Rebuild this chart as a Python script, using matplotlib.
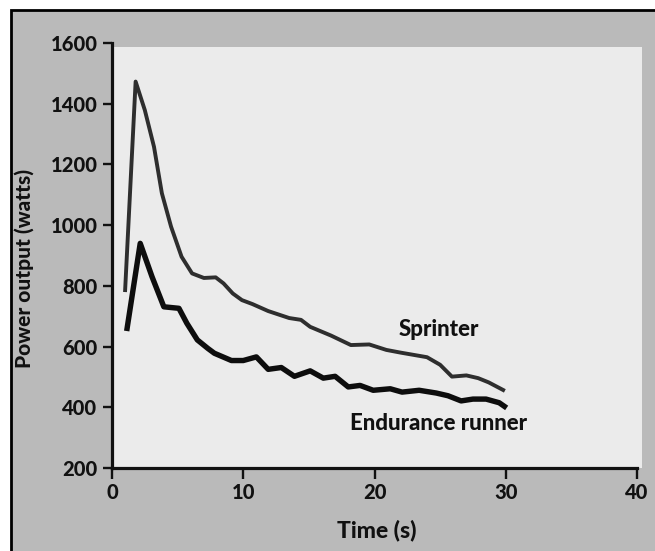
import matplotlib
matplotlib.use("Agg")
import matplotlib.pyplot as plt
from matplotlib.patches import Rectangle

plt.rcParams["font.family"] = ["Lato", "DejaVu Sans"]

# Werte
sprint_t = [1.0, 1.8, 2.5, 3.2, 3.8, 4.5, 5.3, 6.1, 7.0, 7.9, 8.5, 9.2, 9.9, 10.7,
            11.9, 13.5, 14.4, 15.1, 16.7, 18.2, 19.6, 20.9, 22.0, 24.0, 25.0, 25.9,
            27.0, 27.9, 28.7, 29.8]
sprint_w = [786, 1473, 1379, 1258, 1105, 995, 896, 841, 826, 828, 808, 775, 753, 740,
            717, 694, 688, 665, 636, 605, 607, 589, 580, 565, 540, 501,
            505, 496, 482, 457]

endur_t = [1.15, 2.15, 3.05, 3.95, 5.1, 5.7, 6.5, 7.3, 7.8, 9.1, 10.0, 11.0, 11.9,
           12.9, 13.9, 15.1, 16.1, 17.0, 18.0, 18.9, 19.9, 21.2, 22.1, 23.4, 24.7,
           25.6, 26.6, 27.5, 28.5, 29.5, 29.9]
endur_w = [660, 940, 830, 731, 726, 677, 622, 594, 578, 554, 554, 566, 525,
           531, 502, 520, 496, 502, 467, 472, 456, 461, 450, 456, 447,
           438, 421, 427, 427, 415, 403]

x_ticks = [0, 10, 20, 30, 40]
y_ticks = [200, 400, 600, 800, 1000, 1200, 1400, 1600]

W, H = 655, 551
fig = plt.figure(figsize=(W / 100, H / 100), dpi=100, facecolor="white")

def px(x0, y0, x1, y1):
    # Pixelrechteck -> Figurkoordinaten
    return (x0 / W, 1 - y1 / H), (x1 - x0) / W, (y1 - y0) / H

# grauer Hintergrund mit schwarzem Rand links/oben
xy, w, h = px(11, 10, 660, 560)
fig.add_artist(Rectangle(xy, w, h, transform=fig.transFigure, zorder=-5,
                         facecolor="#bababa", edgecolor="black", lw=2.0))
# helle Fläche hinter dem Diagramm
xy, w, h = px(112, 47, 642, 468)
fig.add_artist(Rectangle(xy, w, h, transform=fig.transFigure, zorder=-4,
                         facecolor="#ebebeb", edgecolor="none"))

ax = fig.add_axes([112 / W, 1 - 468 / H, (637 - 112) / W, (468 - 43) / H])
ax.set_facecolor("none")

ax.plot(sprint_t, sprint_w, color="#2e2e2e", lw=2.8, solid_joinstyle="round")
ax.plot(endur_t, endur_w, color="#0d0d0d", lw=3.9, solid_joinstyle="round")

ax.set_xlim(0, 40)
ax.set_ylim(200, 1600)
ax.set_xticks(x_ticks)
ax.set_yticks(y_ticks)

for s in ["top", "right"]:
    ax.spines[s].set_visible(False)
for s in ["left", "bottom"]:
    ax.spines[s].set_linewidth(2.3)
    ax.spines[s].set_color("#111111")

ax.tick_params(axis="y", length=6.5, width=1.7, pad=4, labelsize=14.5, colors="#111111")
ax.tick_params(axis="x", length=8, width=1.7, pad=3, labelsize=14.5, colors="#111111")
for lab in ax.get_xticklabels() + ax.get_yticklabels():
    lab.set_fontweight("black")

ax.set_xlabel("Time (s)", fontsize=16.5, fontweight="black", color="#111111")
ax.set_ylabel("Power output (watts)", fontsize=15, fontweight="black", color="#111111")
ax.xaxis.set_label_coords(0.505, -0.122)
ax.yaxis.set_label_coords(-0.149, 0.47)

ax.text(24.9, 655, "Sprinter", fontsize=16, fontweight="black", color="#111111",
        ha="center", va="center")
ax.text(24.9, 345, "Endurance runner", fontsize=16, fontweight="black", color="#111111",
        ha="center", va="center")

fig.savefig("out.png", dpi=100, facecolor=fig.get_facecolor())
